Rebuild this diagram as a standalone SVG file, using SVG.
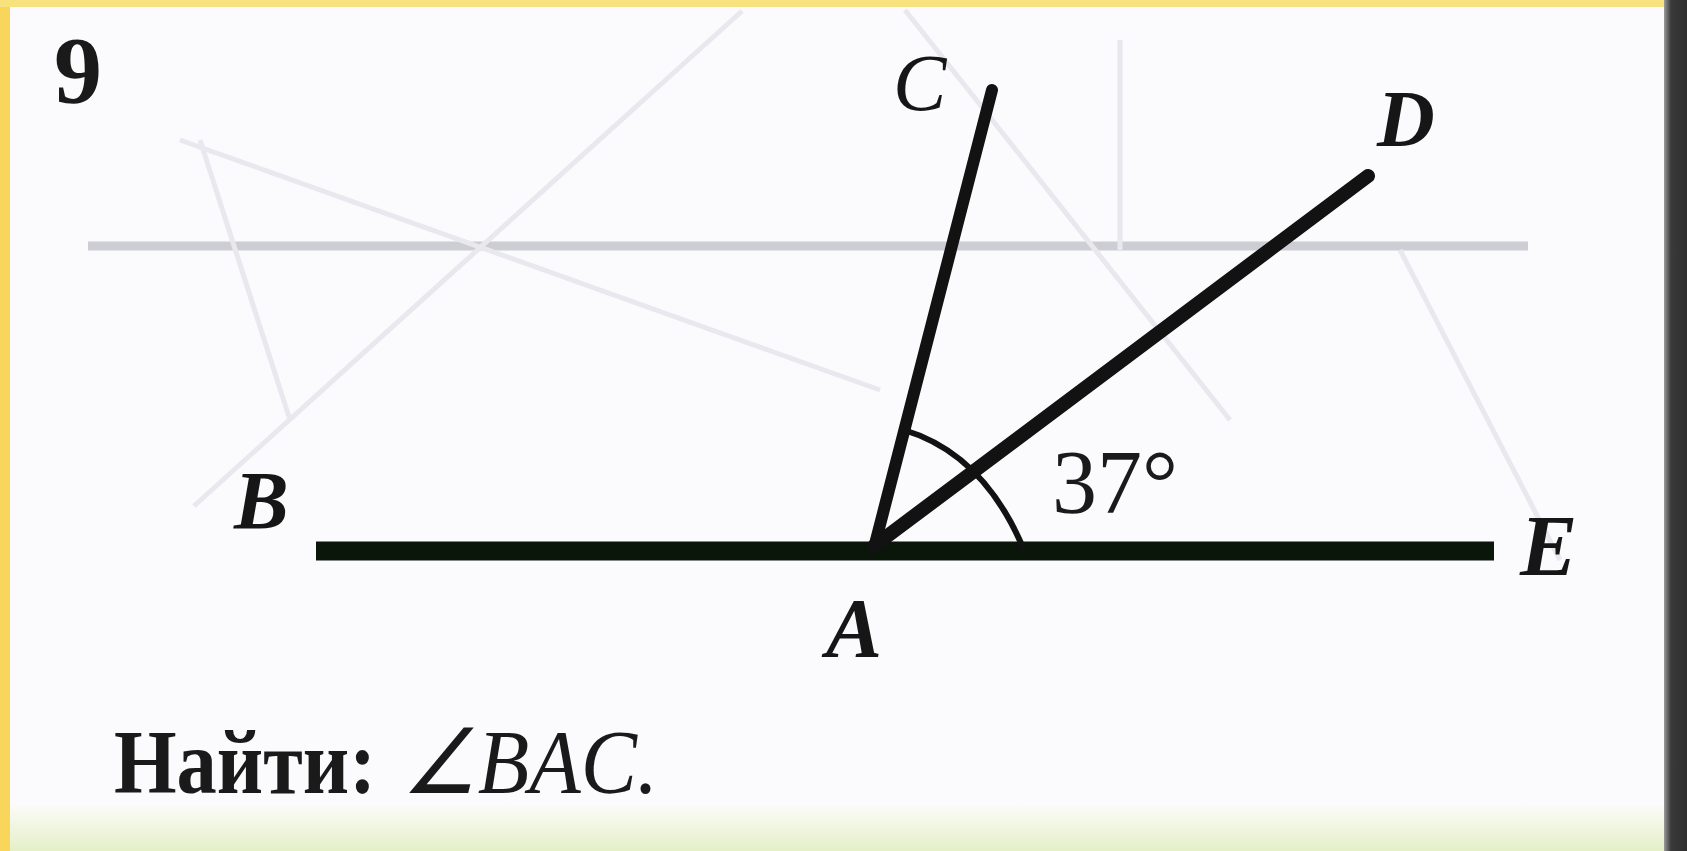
<svg xmlns="http://www.w3.org/2000/svg" width="1687" height="851" viewBox="0 0 1687 851">
  <defs>
    <style>
      .lbl { font-family: "Liberation Serif", "Times New Roman", serif; font-style: italic; fill: #161616; }
      .num { font-family: "Liberation Serif", "Times New Roman", serif; fill: #1a1a1a; }
      .ray { stroke: #121212; fill: none; }
      .ghost { stroke: #e8e8ee; fill: none; stroke-width: 5; }
    </style>
    <linearGradient id="bottomBand" x1="0" y1="0" x2="0" y2="1">
      <stop offset="0" stop-color="#fbfbf8"/>
      <stop offset="1" stop-color="#e4efc8"/>
    </linearGradient>
    <linearGradient id="rightBand" x1="0" y1="0" x2="1" y2="0">
      <stop offset="0" stop-color="#9a9a9a"/>
      <stop offset="0.3" stop-color="#3a3a3a"/>
      <stop offset="1" stop-color="#2e2e2e"/>
    </linearGradient>
  </defs>

  <!-- page -->
  <rect x="0" y="0" width="1687" height="851" fill="#fbfafc"/>
  <rect x="0" y="805" width="1687" height="46" fill="url(#bottomBand)"/>
  <rect x="0" y="0" width="10" height="851" fill="#f8d65c"/>
  <rect x="0" y="0" width="1687" height="7" fill="#f8e27e"/>
  <rect x="1664" y="0" width="23" height="851" fill="url(#rightBand)"/>

  <!-- faint show-through lines -->
  <g id="background-traces">
    <line x1="88" y1="246" x2="1528" y2="246" stroke="#cdcdd4" stroke-width="9"/>
    <line class="ghost" x1="742" y1="11" x2="194" y2="506"/>
    <line class="ghost" x1="180" y1="140" x2="880" y2="390"/>
    <line class="ghost" x1="905" y1="10" x2="1230" y2="420"/>
    <line class="ghost" x1="1400" y1="250" x2="1560" y2="560"/>
    <line class="ghost" x1="1120" y1="40" x2="1120" y2="250"/>
    <line class="ghost" x1="200" y1="140" x2="290" y2="420"/>
  </g>

  <!-- rays / connectors -->
  <g id="connectors">
    <line id="ray-BE" class="ray" x1="316" y1="551" x2="1494" y2="551" style="stroke:#0b160b; stroke-width:19; stroke-linecap:butt"/>
    <line id="ray-AC" class="ray" x1="874" y1="548" x2="992" y2="90" style="stroke-width:12; stroke-linecap:round"/>
    <line id="ray-AD" class="ray" x1="874" y1="546" x2="1368" y2="176" style="stroke-width:14; stroke-linecap:round"/>
    <path id="angle-arc" class="ray" d="M 1024 550 Q 984 454 904 430" style="stroke-width:6"/>
  </g>

  <!-- labels -->
  <g id="node-9"><text class="num" x="54" y="103" font-size="96" font-weight="bold">9</text></g>
  <g id="node-C"><text class="lbl" x="893" y="110" font-size="80">C</text></g>
  <g id="node-D"><text class="lbl" x="1377" y="146" font-size="80" font-weight="bold">D</text></g>
  <g id="node-B"><text class="lbl" x="234" y="528" font-size="82" font-weight="bold">B</text></g>
  <g id="node-E"><text class="lbl" x="1520" y="575" font-size="86" font-weight="bold">E</text></g>
  <g id="node-A"><text class="lbl" x="826" y="657" font-size="84" font-weight="bold">A</text></g>
  <g id="angle-37"><text class="num" x="1052" y="513" font-size="90">37°</text></g>
  <g id="question">
    <text class="num" x="114" y="793" font-size="90" font-weight="bold" fill="#2b1d2b" textLength="262" lengthAdjust="spacingAndGlyphs">Найти:</text>
    <text class="num" x="402" y="793" font-size="90" font-style="italic" fill="#2b1d2b" textLength="256" lengthAdjust="spacingAndGlyphs">∠BAC.</text>
  </g>
</svg>
